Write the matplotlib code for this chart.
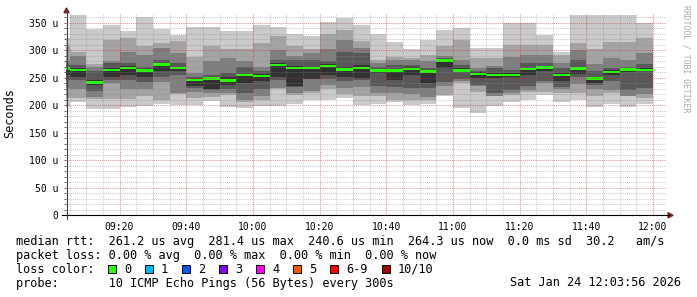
import numpy as np
import matplotlib
matplotlib.use('Agg')
import matplotlib.pyplot as plt
from matplotlib.patches import Polygon, Rectangle
from matplotlib.lines import Line2D

# 5 minute steps, minutes after 09:00 (first step is cut by the left edge)
step_end = [5, 10, 15, 20, 25, 30, 35, 40, 45, 50, 55, 60, 65, 70, 75, 80, 85, 90,
            95, 100, 105, 110, 115, 120, 125, 130, 135, 140, 145, 150, 155, 160, 165,
            170, 175, 180]

# sorted pings per step, in microseconds (p1 = lowest, p10 = highest)
p10 = [323, 364, 338, 346, 335, 361, 338, 327, 343, 343, 335, 335, 346, 343, 330, 325, 352, 359,
       346, 330, 314, 302, 319, 337, 340, 304, 304, 350, 350, 327, 297, 364, 364, 364, 364, 350]
p9 = [307, 297, 275, 319, 322, 307, 313, 316, 288, 307, 302, 302, 313, 325, 308, 302, 330, 337,
      316, 283, 288, 285, 291, 307, 319, 285, 285, 310, 310, 310, 291, 313, 302, 314, 314, 322]
p8 = [280, 289, 270, 280, 297, 292, 304, 294, 259, 280, 285, 280, 270, 300, 290, 295, 302, 319,
      304, 277, 283, 283, 280, 290, 283, 268, 271, 288, 292, 292, 277, 300, 275, 285, 282, 294]
p7 = [273, 273, 263, 277, 277, 270, 283, 277, 252, 255, 259, 270, 262, 283, 283, 283, 280, 297,
      294, 270, 273, 273, 268, 286, 273, 263, 268, 264, 277, 277, 268, 282, 262, 268, 270, 275]
p6 = [268, 268, 246, 268, 271, 266, 277, 270, 247, 252, 251, 257, 256, 277, 271, 270, 274, 270,
      273, 266, 266, 270, 264, 284, 268, 260, 258, 258, 268, 272, 259, 270, 252, 264, 267, 268]
p5 = [255, 251, 236, 251, 255, 251, 262, 262, 235, 229, 237, 240, 244, 251, 235, 248, 255, 252,
      249, 258, 246, 255, 240, 267, 260, 249, 249, 252, 255, 262, 244, 257, 240, 255, 260, 262]
p4 = [246, 245, 225, 246, 246, 242, 251, 255, 231, 227, 229, 222, 229, 245, 234, 248, 248, 244,
      246, 235, 233, 231, 231, 242, 248, 237, 222, 227, 235, 244, 233, 252, 237, 244, 227, 231]
p3 = [231, 229, 215, 240, 229, 229, 242, 222, 224, 222, 222, 209, 216, 231, 222, 226, 237, 231,
      233, 222, 222, 220, 215, 235, 244, 235, 216, 222, 228, 240, 229, 239, 229, 227, 216, 220]
p2 = [213, 213, 211, 211, 211, 216, 209, 220, 213, 215, 218, 206, 209, 229, 218, 222, 229, 221,
      216, 216, 209, 209, 209, 218, 240, 224, 216, 218, 224, 224, 222, 222, 216, 222, 216, 213]
p1 = [196, 205, 194, 194, 197, 198, 203, 200, 200, 208, 197, 195, 198, 198, 203, 209, 209, 213,
      200, 203, 206, 200, 203, 216, 195, 186, 198, 205, 210, 218, 206, 209, 197, 203, 197, 203]
median = [267, 264, 241, 264, 268, 263, 274, 268, 246, 249, 245, 255, 253, 273, 268, 268, 271, 265,
          268, 263, 263, 266, 261, 281, 263, 257, 255, 255, 266, 269, 255, 267, 249, 260, 265, 264]

time_ticks = [20, 40, 60, 80, 100, 120, 140, 160, 180]
time_labels = ['09:20', '09:40', '10:00', '10:20', '10:40', '11:00', '11:20', '11:40', '12:00']
y_ticks = [0, 50, 100, 150, 200, 250, 300, 350]
y_labels = ['0', '50 u', '100 u', '150 u', '200 u', '250 u', '300 u', '350 u']

loss_labels = ['0', '1', '2', '3', '4', '5', '6-9', '10/10']
loss_colors = ['#26ff00', '#00b8ff', '#0059ff', '#7e00ff', '#ff00ff', '#ff5500', '#ff0000', '#a10000']

W, H = 697, 297
MONO = 'DejaVu Sans Mono'
plt.rcParams['font.family'] = MONO


def fx(x):
    return x / W


def fy(y):
    return 1 - y / H


fig = plt.figure(figsize=(W / 100, H / 100), dpi=100)
fig.patch.set_facecolor('white')
ax = fig.add_axes([fx(66), fy(215.3), 600 / W, 202 / H])

edges = np.array([0] + step_end, dtype=float)
lo = [p1, p2, p3, p4, p5]
hi = [p10, p9, p8, p7, p6]
smoke = ['#cacaca', '#a4a4a4', '#7e7e7e', '#585858', '#323232']
for l, h, c in zip(lo, hi, smoke):
    ax.stairs(h, edges, baseline=l, fill=True, color=c, lw=0)

med = np.array(median, dtype=float)
ax.stairs(med + 2.3, edges, baseline=med - 2.3, fill=True, color=loss_colors[0], lw=0)

ax.set_xlim(3 + 56 / 60, 183 + 56 / 60)
ax.set_ylim(0, 367)
ax.set_xticks(time_ticks)
ax.set_xticklabels(time_labels)
ax.set_xticks(np.arange(5, 185, 5), minor=True)
ax.set_yticks(y_ticks)
ax.set_yticklabels(y_labels)
ax.set_yticks(np.arange(0, 370, 10), minor=True)

ax.set_axisbelow(False)
ax.grid(which='minor', color='#8c8c8c', alpha=0.45, ls=(0, (1, 1)), lw=0.75)
ax.grid(which='major', color='#c83232', alpha=0.5, ls=(0, (1, 1)), lw=0.75)
for s in ax.spines.values():
    s.set_visible(False)
ax.tick_params(axis='x', which='both', length=0, pad=5, labelsize=7)
ax.tick_params(axis='y', which='both', direction='out', length=1.5, width=0.7,
               color='#606060', pad=4, labelsize=7)

# axis lines with arrows
fig.add_artist(Line2D([fx(62), fx(669)], [fy(215.3), fy(215.3)], color='black', lw=0.8))
fig.add_artist(Line2D([fx(66.5), fx(66.5)], [fy(219), fy(11)], color='#404040', lw=0.8))
fig.add_artist(Polygon([(fx(668), fy(212.7)), (fx(673), fy(215.3)), (fx(668), fy(217.9))],
                       closed=True, color='#7f1f1f', transform=fig.transFigure))
fig.add_artist(Polygon([(fx(64), fy(12.7)), (fx(66.5), fy(8)), (fx(69), fy(12.7))],
                       closed=True, color='#7f1f1f', transform=fig.transFigure))

fig.text(fx(10), fy(113.5), 'Seconds', rotation=90, ha='center', va='center', fontsize=8.6)
fig.text(fx(686), fy(5), 'RRDTOOL / TOBI OETIKER', rotation=270, ha='center', va='top',
         fontsize=5.9, color='#a8a8a8')

# legend
fs = 8.6
fig.text(fx(16), fy(245), 'median rtt:  261.2 us avg  281.4 us max  240.6 us min  '
         '264.3 us now  0.0 ms sd  30.2   am/s', fontsize=fs, va='baseline')
fig.text(fx(16), fy(259), 'packet loss: 0.00 % avg  0.00 % max  0.00 % min  0.00 % now',
         fontsize=fs, va='baseline')
fig.text(fx(16), fy(272.7), 'loss color:', fontsize=fs, va='baseline')
sq_x = [108, 145, 182, 219, 256, 293, 330, 381.5]
for x, lab, c in zip(sq_x, loss_labels, loss_colors):
    fig.add_artist(Rectangle((fx(x), fy(273)), 8 / W, 8 / H, transform=fig.transFigure,
                             facecolor=c, edgecolor='black', lw=0.7))
    fig.text(fx(x + 16), fy(272.7), lab, fontsize=fs, va='baseline')
fig.text(fx(16), fy(286.5), 'probe:       10 ICMP Echo Pings (56 Bytes) every 300s',
         fontsize=fs, va='baseline')
fig.text(fx(681), fy(286.5), 'Sat Jan 24 12:03:56 2026', fontsize=fs, va='baseline', ha='right')

fig.savefig('out.png', dpi=100)
